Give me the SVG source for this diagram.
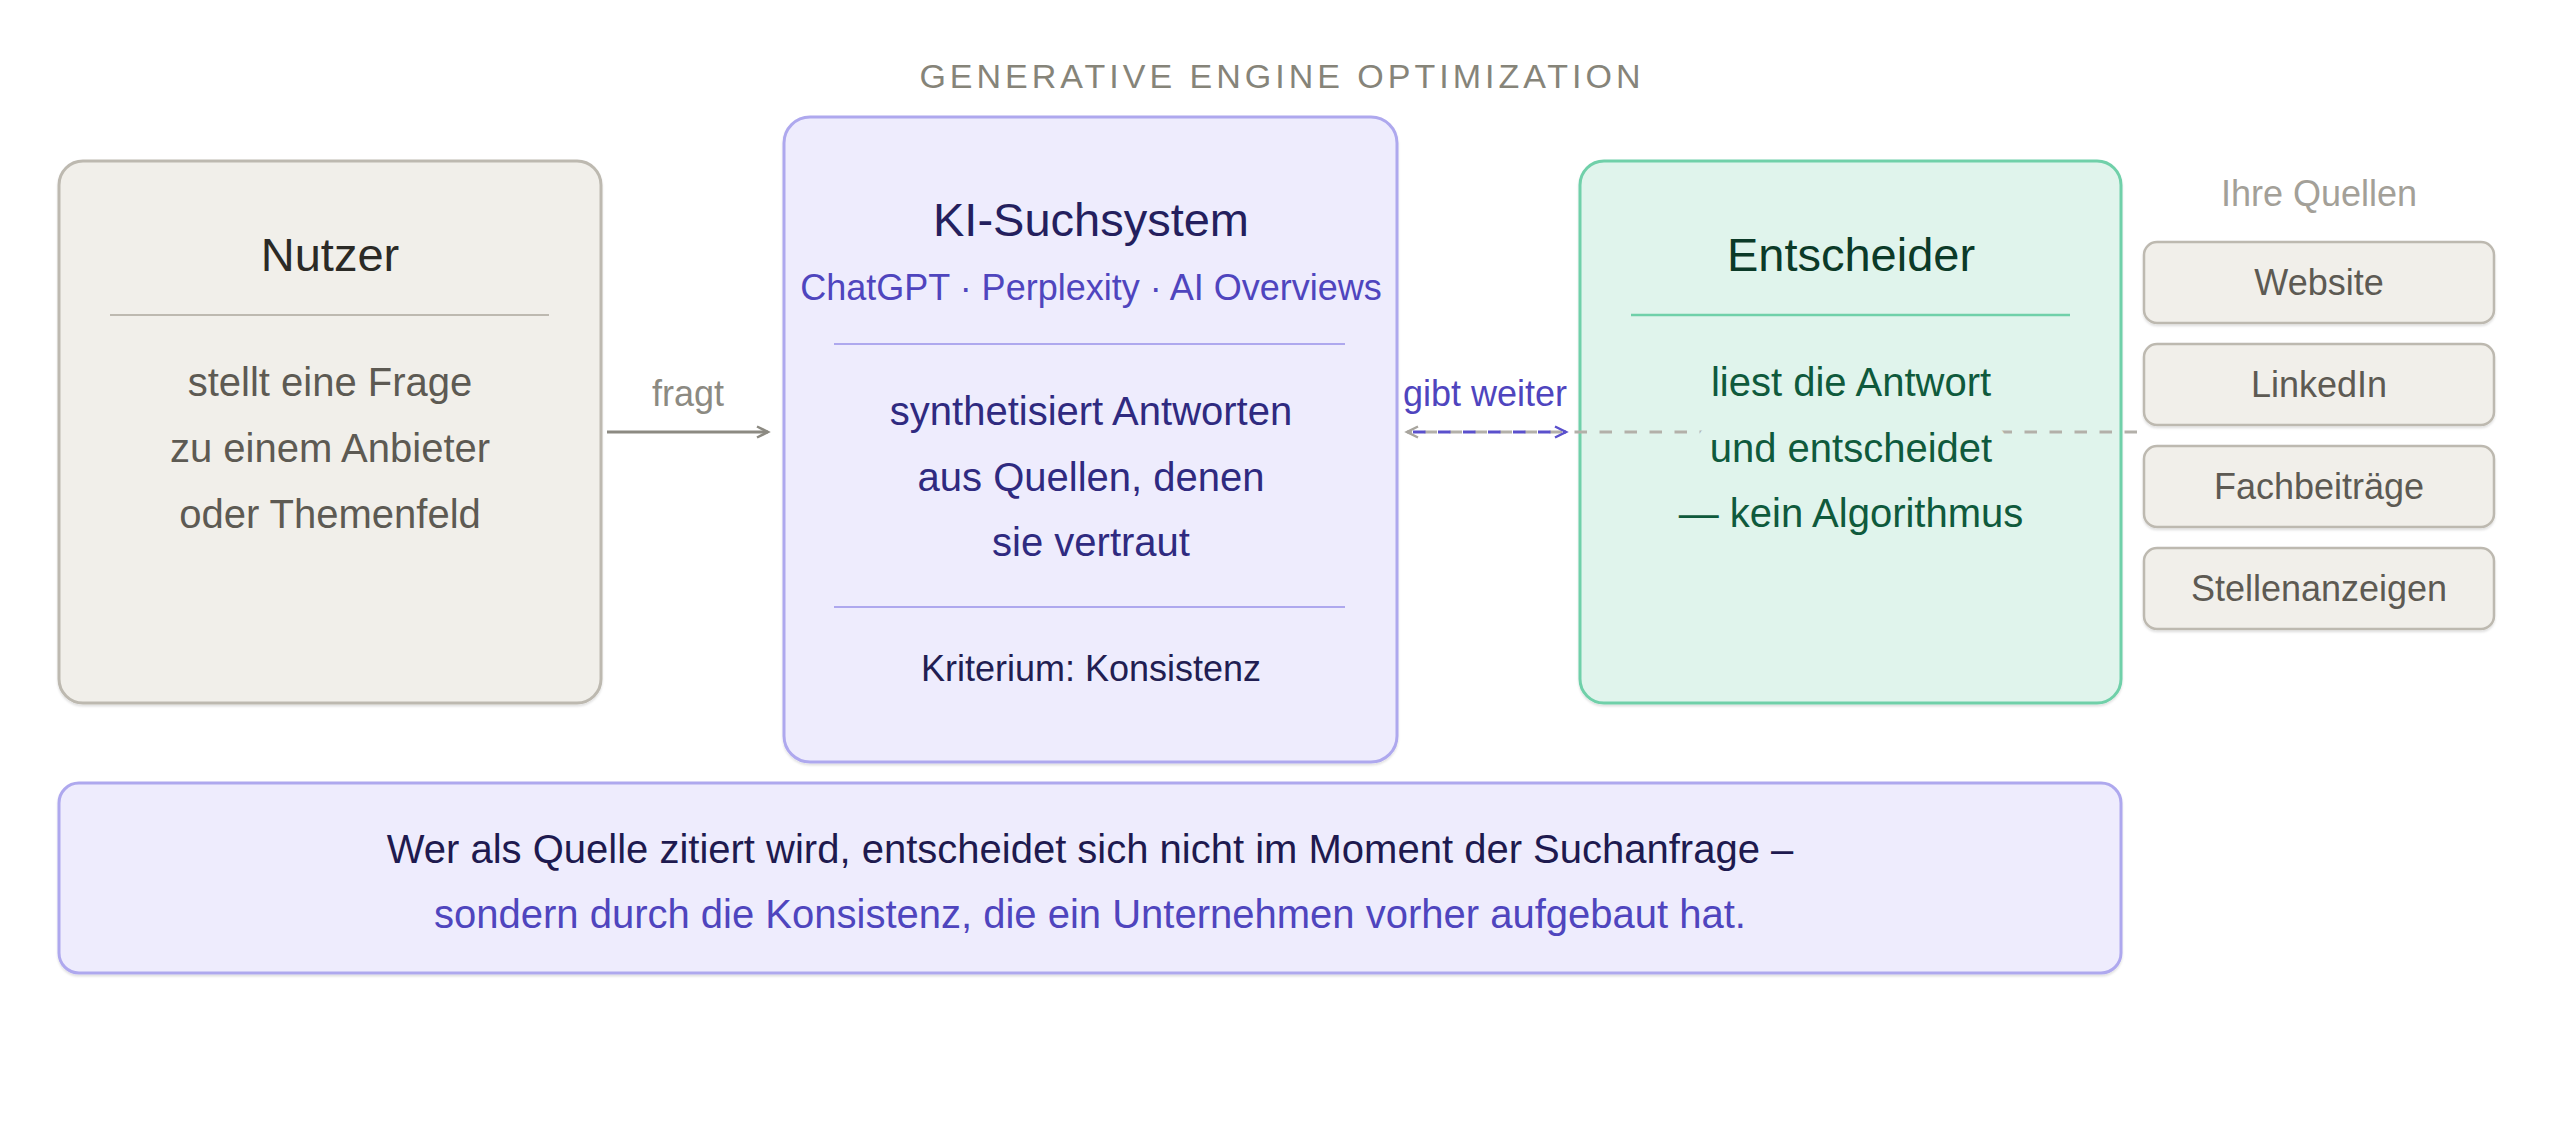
<svg xmlns="http://www.w3.org/2000/svg" width="2560" height="1134" viewBox="0 0 2560 1134">
  <style>
    text { font-family: "Liberation Sans", Arial, sans-serif; text-anchor: middle; }
    .title { font-size: 34px; letter-spacing: 4px; fill: #868479; }
    .head { font-size: 47px; }
    .body { font-size: 40px; }
    .lbl { font-size: 36px; }
    .nutzer { fill: #f1efea; stroke: #bdb9b0; stroke-width: 3; }
    .ki { fill: #eeecfd; stroke: #aea8ee; stroke-width: 3; }
    .ent { fill: #e0f4ec; stroke: #6fd0a9; stroke-width: 3; }
    .src { fill: #f1efea; stroke: #bdb9b0; stroke-width: 2.5; }
    .div-g { stroke: #bdb9b0; stroke-width: 2; }
    .div-k { stroke: #aea8ee; stroke-width: 2; }
    .div-e { stroke: #6fd0a9; stroke-width: 2.5; }
    .conn { fill: none; stroke-width: 3; }
  </style>
  <defs>
    <filter id="sh" x="-5%" y="-5%" width="110%" height="115%">
      <feDropShadow dx="0" dy="2" stdDeviation="1" flood-color="#000" flood-opacity="0.12"/>
    </filter>
    <marker id="arrGray" markerUnits="userSpaceOnUse" markerWidth="16" markerHeight="16" refX="12" refY="7" orient="auto">
      <path d="M1,1.5 L12,7 L1,12.5" fill="none" stroke="#8c8a82" stroke-width="2.5"/>
    </marker>
    <marker id="arrGray2" markerUnits="userSpaceOnUse" markerWidth="16" markerHeight="16" refX="12" refY="7" orient="auto">
      <path d="M1,1.5 L12,7 L1,12.5" fill="none" stroke="#a8a59e" stroke-width="2.5"/>
    </marker>
    <marker id="arrBlue" markerUnits="userSpaceOnUse" markerWidth="16" markerHeight="16" refX="12" refY="7" orient="auto">
      <path d="M1,1.5 L12,7 L1,12.5" fill="none" stroke="#5a50cc" stroke-width="2.5"/>
    </marker>
  </defs>

  <rect width="2560" height="1134" fill="#ffffff"/>

  <text class="title" x="1282" y="88">GENERATIVE ENGINE OPTIMIZATION</text>

  <g id="nutzer">
    <rect class="nutzer" x="59" y="161" width="542" height="542" rx="24" filter="url(#sh)"/>
    <text class="head" x="330" y="271" fill="#2b2a26">Nutzer</text>
    <line class="div-g" x1="110" y1="315" x2="549" y2="315"/>
    <text class="body" x="330" y="396" fill="#5d5a53">stellt eine Frage</text>
    <text class="body" x="330" y="462" fill="#5d5a53">zu einem Anbieter</text>
    <text class="body" x="330" y="528" fill="#5d5a53">oder Themenfeld</text>
  </g>

  <g id="ki-suchsystem">
    <rect class="ki" x="784" y="117" width="613" height="645" rx="26" filter="url(#sh)"/>
    <text class="head" x="1091" y="236" fill="#241f5e">KI-Suchsystem</text>
    <text class="lbl" x="1091" y="300" fill="#4f45be">ChatGPT · Perplexity · AI Overviews</text>
    <line class="div-k" x1="834" y1="344" x2="1345" y2="344"/>
    <text class="body" x="1091" y="425" fill="#2f2a80">synthetisiert Antworten</text>
    <text class="body" x="1091" y="491" fill="#2f2a80">aus Quellen, denen</text>
    <text class="body" x="1091" y="556" fill="#2f2a80">sie vertraut</text>
    <line class="div-k" x1="834" y1="607" x2="1345" y2="607"/>
    <text x="1091" y="681" font-size="36" fill="#221e52">Kriterium: Konsistenz</text>
  </g>

  <g id="entscheider">
    <rect class="ent" x="1580" y="161" width="541" height="542" rx="24" filter="url(#sh)"/>
    <text class="head" x="1851" y="271" fill="#0b3a28">Entscheider</text>
    <line class="div-e" x1="1631" y1="315" x2="2070" y2="315"/>
    <text class="body" x="1851" y="396" fill="#0f5a3c">liest die Antwort</text>
    <text class="body" x="1851" y="527" fill="#0f5a3c">— kein Algorithmus</text>
  </g>

  <g id="quellen">
    <text class="lbl" x="2319" y="206" fill="#a3a098">Ihre Quellen</text>
    <g id="src-website">
      <rect class="src" x="2144" y="242" width="350" height="81" rx="13" filter="url(#sh)"/>
      <text class="lbl" x="2319" y="295" fill="#5d5a53">Website</text>
    </g>
    <g id="src-linkedin">
      <rect class="src" x="2144" y="344" width="350" height="81" rx="13" filter="url(#sh)"/>
      <text class="lbl" x="2319" y="397" fill="#5d5a53">LinkedIn</text>
    </g>
    <g id="src-fachbeitraege">
      <rect class="src" x="2144" y="446" width="350" height="81" rx="13" filter="url(#sh)"/>
      <text class="lbl" x="2319" y="499" fill="#5d5a53">Fachbeiträge</text>
    </g>
    <g id="src-stellenanzeigen">
      <rect class="src" x="2144" y="548" width="350" height="81" rx="13" filter="url(#sh)"/>
      <text class="lbl" x="2319" y="601" fill="#5d5a53">Stellenanzeigen</text>
    </g>
  </g>

  <g id="connectors">
    <line class="conn" x1="607" y1="432" x2="768" y2="432" stroke="#8c8a82" marker-end="url(#arrGray)"/>
    <text class="lbl" x="688" y="406" fill="#8c8a82">fragt</text>
    <line class="conn" x1="2137" y1="432" x2="1407" y2="432" stroke="#b3b0a9" stroke-dasharray="12.5 12.5" marker-end="url(#arrGray2)"/>
    <line class="conn" x1="1407" y1="432" x2="1566" y2="432" stroke="#5a50cc" stroke-dasharray="12.5 12.5" stroke-dashoffset="19" marker-end="url(#arrBlue)"/>
    <text class="lbl" x="1485" y="406" fill="#4f45be">gibt weiter</text>
  </g>

  <g id="entscheider-line2">
    <text class="body" x="1851" y="462" fill="#0f5a3c" stroke="#e0f4ec" stroke-width="28" stroke-linejoin="round" paint-order="stroke">und entscheidet</text>
  </g>

  <g id="fazit">
    <rect class="ki" x="59" y="783" width="2062" height="190" rx="20" filter="url(#sh)"/>
    <text class="body" x="1090" y="863" fill="#1e1a4f">Wer als Quelle zitiert wird, entscheidet sich nicht im Moment der Suchanfrage –</text>
    <text class="body" x="1090" y="928" fill="#4f45be">sondern durch die Konsistenz, die ein Unternehmen vorher aufgebaut hat.</text>
  </g>
</svg>
